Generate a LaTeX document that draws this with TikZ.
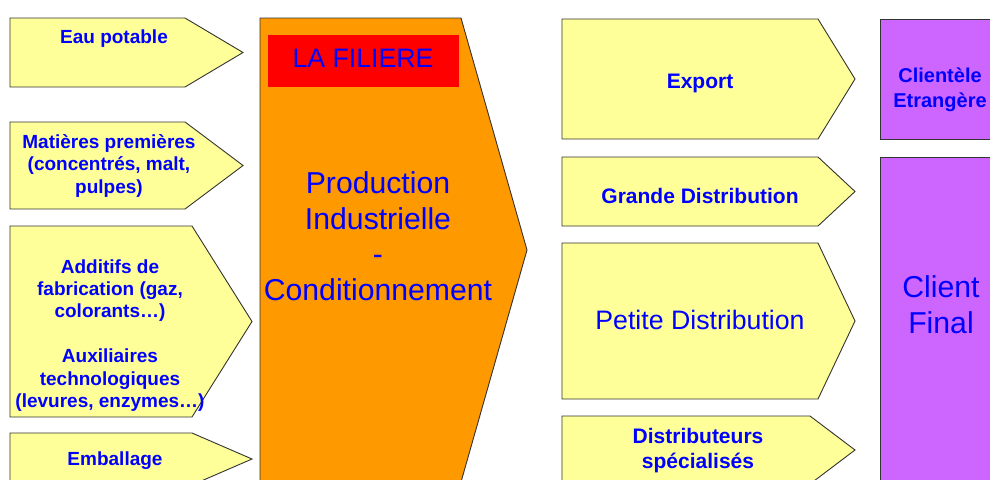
\documentclass[tikz,border=0pt]{standalone}
\usepackage{fontspec}
\setmainfont{Liberation Sans}
\definecolor{ylw}{HTML}{FFFF99}
\definecolor{org}{HTML}{FF9900}
\definecolor{prp}{HTML}{CC66FF}
\definecolor{txtblue}{HTML}{0000FF}
\definecolor{edgec}{HTML}{333333}
\begin{document}
\begin{tikzpicture}[x=1pt,y=-1pt,
  shp/.style={draw=edgec, line width=0.9pt, line join=miter},
  yshape/.style={shp, fill=ylw},
  oshape/.style={shp, fill=org},
  pshape/.style={shp, fill=prp},
  btxt/.style={font=\bfseries\fontsize{19}{22.4}\selectfont, text=txtblue, align=center, inner sep=0pt, anchor=base},
  btxtr/.style={btxt, font=\bfseries\fontsize{21}{25}\selectfont},
  btxtc/.style={btxt, font=\bfseries\fontsize{20}{25}\selectfont},
  rtxt/.style={font=\fontsize{26.7}{30}\selectfont, text=txtblue, align=center, inner sep=0pt, anchor=base},
  bigtxt/.style={font=\fontsize{30.2}{35.5}\selectfont, text=txtblue, align=center, inner sep=0pt, anchor=base}]
\useasboundingbox (0,0) rectangle (990,479);
\fill[white] (0,0) rectangle (990,479);
\clip (0,0) rectangle (990,479);
% left column
\draw[yshape] (10,18) -- (185,18) -- (243,52.5) -- (185,87) -- (10,87) -- cycle;
\draw[yshape] (10,122) -- (185,122) -- (243,165.5) -- (185,209) -- (10,209) -- cycle;
\draw[yshape] (10,226) -- (192,226) -- (252,321.5) -- (192,417) -- (10,417) -- cycle;
\draw[yshape] (10,433) -- (192,433) -- (252,459) -- (192,485) -- (10,485) -- cycle;
% central
\draw[oshape] (260,18) -- (461,18) -- (527,250) -- (461,482) -- (260,482) -- cycle;
\fill[red] (268,35) rectangle (459,87);
% right column
\draw[yshape] (562,19) -- (818,19) -- (855,79) -- (818,139) -- (562,139) -- cycle;
\draw[yshape] (562,157) -- (818,157) -- (855,191.5) -- (818,226) -- (562,226) -- cycle;
\draw[yshape] (562,243) -- (818,243) -- (855,321) -- (818,399) -- (562,399) -- cycle;
\draw[yshape] (562,416) -- (810,416) -- (855,450) -- (810,484) -- (562,484) -- cycle;
\draw[pshape] (880,19) rectangle (1000,139);
\draw[pshape] (880,157) rectangle (1000,500);
% texts (base anchor = baseline of the last line)
\node[btxt] (eau) at (114,43) {Eau potable};
\node[btxt] (mat) at (109,193) {Matières premières\\(concentrés, malt,\\pulpes)};
\node[btxt] (add) at (110,407.4) {Additifs de\\fabrication (gaz,\\colorants\dots)\\[22.4pt]Auxiliaires\\technologiques\\(levures, enzymes\dots)};
\node[btxt] (emb) at (115,465) {Emballage};
\node[rtxt] (fil) at (363,67) {LA FILIERE};
\node[bigtxt] (prod) at (378,300) {Production\\Industrielle\\-\\Conditionnement};
\node[btxtr] (exp) at (700,88) {Export};
\node[btxtr] (gd) at (700,203) {Grande Distribution};
\node[rtxt] (pd) at (700,329) {Petite Distribution};
\node[btxtr] (ds) at (698,468) {Distributeurs\\spécialisés};
\node[btxtc] (ce) at (940,107) {Clientèle\\Etrangère};
\node[bigtxt] (cf) at (941,333) {Client\\Final};
\end{tikzpicture}
\end{document}
